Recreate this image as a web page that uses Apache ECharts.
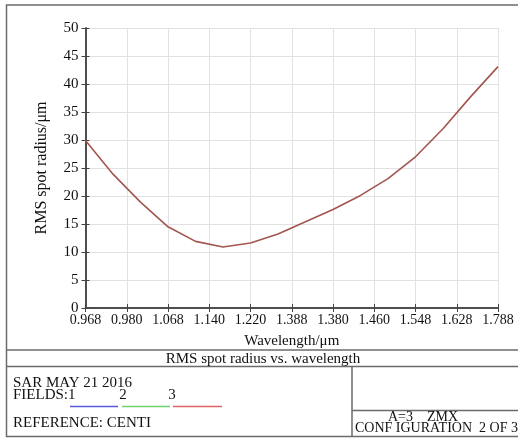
<!DOCTYPE html>
<html>

<head>
    <meta charset="utf-8">
    <script type="text/javascript" src="https://cdn.jsdelivr.net/npm/echarts@6/dist/echarts.min.js"></script>
    <style>
        html, body { margin: 0; padding: 0; background: #fff; }
    </style>
</head>

<body>
    <div id="main" style="width: 518px;height:438px;"></div>
    <script type="text/javascript">
        // tick labels as printed on the x axis (not monotonic, kept as shown)
        var wavelengthLabels = ['0.968', '0.980', '1.068', '1.140', '1.220', '1.388', '1.380', '1.460', '1.548', '1.628', '1.788'];
        // sample positions along the x axis, in tick units
        var samplePos = [0, 0.667, 1.333, 2, 2.667, 3.333, 4, 4.667, 5.333, 6, 6.667, 7.333, 8, 8.667, 9.333, 10];
        // RMS spot radius (um) at each sample
        var rmsRadius = [29.9, 23.9, 18.9, 14.5, 11.9, 10.9, 11.6, 13.2, 15.4, 17.6, 20.1, 23.1, 27.0, 32.0, 37.7, 43.1];
        var yTicks = [0, 5, 10, 15, 20, 25, 30, 35, 40, 45, 50];

        var lineColor = '#a2564f';
        var frameColor = '#6b6b6b';
        var serif = '"Liberation Serif", "DejaVu Serif", serif';

        var points = samplePos.map(function (x, i) { return [x, rmsRadius[i]]; });

        var myChart = echarts.init(document.getElementById('main'));

        myChart.setOption({
            animation: false,
            backgroundColor: '#fff',
            grid: {
                left: 85.5,
                top: 28,
                right: 20,
                bottom: 130,
                containLabel: false
            },
            xAxis: [
                {
                    type: 'value',
                    min: 0,
                    max: 10,
                    interval: 1,
                    name: 'Wavelength/\u03bcm',
                    nameLocation: 'middle',
                    nameGap: 26,
                    nameTextStyle: { fontFamily: serif, fontSize: 15, color: '#111' },
                    axisLine: { lineStyle: { color: '#444', width: 1.5 } },
                    axisTick: { inside: true, length: 4, lineStyle: { color: '#444' } },
                    axisLabel: {
                        fontFamily: serif, fontSize: 14, color: '#111', margin: 5,
                        formatter: function (v) { return wavelengthLabels[Math.round(v)]; }
                    },
                    splitLine: { show: true, lineStyle: { color: '#e2e2e2' } }
                },
                {
                    type: 'value',
                    position: 'top',
                    min: 0,
                    max: 10,
                    interval: 1,
                    axisLine: { lineStyle: { color: '#444', width: 1.5 } },
                    axisTick: { inside: true, length: 4, lineStyle: { color: '#444' } },
                    axisLabel: { show: false },
                    splitLine: { show: false }
                }
            ],
            yAxis: [
                {
                    type: 'value',
                    min: yTicks[0],
                    max: yTicks[yTicks.length - 1],
                    interval: 5,
                    name: 'RMS spot radius/\u03bcm',
                    nameLocation: 'middle',
                    nameGap: 36,
                    nameTextStyle: { fontFamily: serif, fontSize: 16, color: '#111' },
                    axisLine: { show: true, lineStyle: { color: '#444', width: 1.5 } },
                    axisTick: { show: true, inside: true, length: 4, lineStyle: { color: '#444' } },
                    axisLabel: { fontFamily: serif, fontSize: 15, color: '#111', margin: 7 },
                    splitLine: { show: true, lineStyle: { color: '#e2e2e2' } }
                },
                {
                    type: 'value',
                    position: 'right',
                    min: yTicks[0],
                    max: yTicks[yTicks.length - 1],
                    interval: 5,
                    axisLine: { show: true, lineStyle: { color: '#444', width: 1.5 } },
                    axisTick: { show: true, inside: true, length: 4, lineStyle: { color: '#444' } },
                    axisLabel: { show: false },
                    splitLine: { show: false }
                }
            ],
            series: [
                {
                    name: 'RMS',
                    type: 'line',
                    data: points,
                    symbol: 'none',
                    lineStyle: { color: lineColor, width: 1.6 }
                }
            ],
            graphic: [
                // outer frame and the title block
                { type: 'rect', shape: { x: 6.5, y: 5, width: 520, height: 431.5 }, style: { fill: null, stroke: frameColor, lineWidth: 1.5 }, silent: true },
                { type: 'line', shape: { x1: 6.5, y1: 350, x2: 518, y2: 350 }, style: { stroke: frameColor, lineWidth: 1.5 } },
                { type: 'line', shape: { x1: 6.5, y1: 366.5, x2: 518, y2: 366.5 }, style: { stroke: frameColor, lineWidth: 1.5 } },
                { type: 'line', shape: { x1: 352, y1: 366.5, x2: 352, y2: 436.5 }, style: { stroke: frameColor, lineWidth: 1.5 } },
                { type: 'line', shape: { x1: 352, y1: 410.5, x2: 518, y2: 410.5 }, style: { stroke: frameColor, lineWidth: 1.5 } },
                {
                    type: 'text', x: 263, y: 359,
                    style: { text: 'RMS spot radius vs. wavelength', fontFamily: serif, fontSize: 15, fill: '#111', align: 'center', verticalAlign: 'middle' }
                },
                {
                    type: 'text', x: 13, y: 383,
                    style: { text: 'SAR MAY 21 2016', fontFamily: serif, fontSize: 15, fill: '#111', verticalAlign: 'middle' }
                },
                {
                    type: 'text', x: 13, y: 395,
                    style: { text: 'FIELDS:1', fontFamily: serif, fontSize: 15, fill: '#111', verticalAlign: 'middle' }
                },
                {
                    type: 'text', x: 123, y: 395,
                    style: { text: '2', fontFamily: serif, fontSize: 15, fill: '#111', align: 'center', verticalAlign: 'middle' }
                },
                {
                    type: 'text', x: 172, y: 395,
                    style: { text: '3', fontFamily: serif, fontSize: 15, fill: '#111', align: 'center', verticalAlign: 'middle' }
                },
                { type: 'line', shape: { x1: 70, y1: 406.5, x2: 118, y2: 406.5 }, style: { stroke: '#5a5ad8', lineWidth: 1.5 } },
                { type: 'line', shape: { x1: 122, y1: 406.5, x2: 170, y2: 406.5 }, style: { stroke: '#6ed46e', lineWidth: 1.5 } },
                { type: 'line', shape: { x1: 173, y1: 406.5, x2: 222, y2: 406.5 }, style: { stroke: '#e06464', lineWidth: 1.5 } },
                {
                    type: 'text', x: 13, y: 423,
                    style: { text: 'REFERENCE: CENTI', fontFamily: serif, fontSize: 15, fill: '#111', verticalAlign: 'middle' }
                },
                {
                    type: 'text', x: 423, y: 417,
                    style: { text: 'A=3    ZMX', fontFamily: serif, fontSize: 14, fill: '#111', align: 'center', verticalAlign: 'middle' }
                },
                {
                    type: 'text', x: 355, y: 428,
                    style: { text: 'CONF IGURATION  2 OF 3', fontFamily: serif, fontSize: 14, fill: '#111', verticalAlign: 'middle' }
                }
            ]
        });
    </script>
</body>

</html>
